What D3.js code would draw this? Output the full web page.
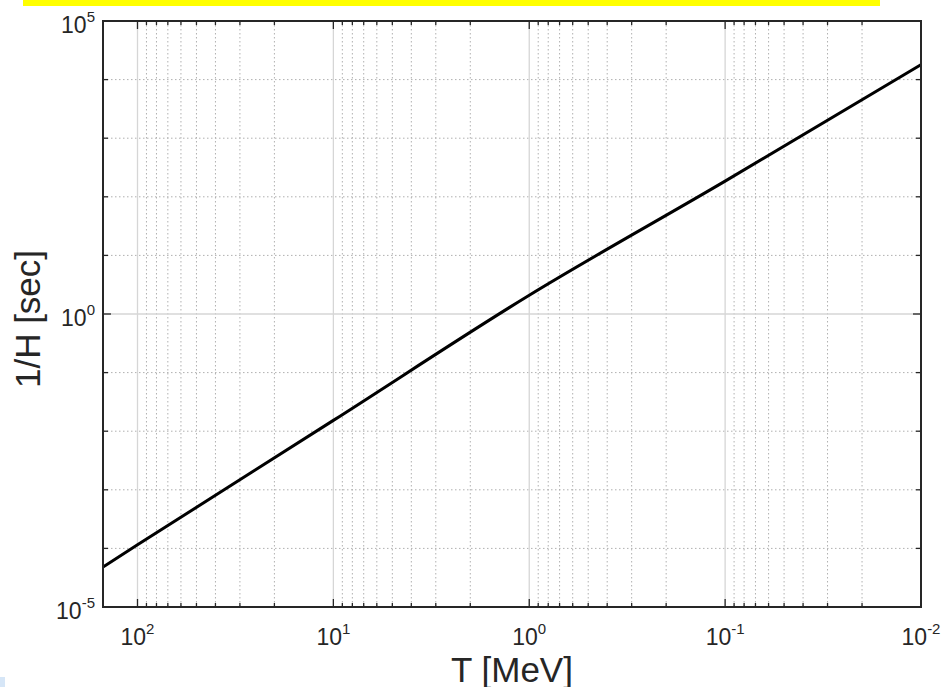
<!DOCTYPE html>
<html><head><meta charset="utf-8">
<script src="https://cdn.jsdelivr.net/npm/d3@7"></script>
<style>html,body{margin:0;padding:0;background:#fff;}svg{display:block;}</style>
</head><body>
<script>
// Data
const temperatureMeV = [150, 100, 10, 1, 0.1, 0.01];
const inverseHubbleSec = [4.82e-5, 1.15e-4, 0.0153, 2.09, 185, 1.80e4];
const xTickValues = [100, 10, 1, 0.1, 0.01];
const yTickValues = [1e-5, 1, 1e5];
const xTitle = "T [MeV]";
const yTitle = "1/H [sec]";

const W = 947, H = 687;
const m = {left: 103, right: 921, top: 21, bottom: 607};
const svg = d3.select("body").append("svg").attr("width", W).attr("height", H);
const font = "'Liberation Sans', Arial, Helvetica, sans-serif";

// yellow banner and corner bit
svg.append("rect").attr("x", 23).attr("y", 0).attr("width", 857).attr("height", 6).attr("fill", "#ffff00");
svg.append("rect").attr("x", 0).attr("y", 677).attr("width", 5).attr("height", 10).attr("fill", "#d6e6f7");

const x = d3.scaleLog().domain([150, 0.01]).range([m.left, m.right]);
const y = d3.scaleLog().domain([1e-5, 1e5]).range([m.bottom, m.top]);

// minor x positions
const xMinor = [];
for (let e = -2; e <= 2; e++) for (let k = 2; k <= 9; k++) {
  const v = k * Math.pow(10, e);
  if (v < 150 && v > 0.01) xMinor.push(v);
}
const xMajor = xTickValues.filter(v => v < 150 && v > 0.01);
const yMinor = d3.range(-4, 5).filter(e => e !== 0).map(e => Math.pow(10, e));
const yMajorInner = yTickValues.filter(v => v > 1e-5 && v < 1e5);

const g = svg.append("g");
// grids
g.selectAll(".xminor").data(xMinor).join("line")
  .attr("x1", d => x(d)).attr("x2", d => x(d)).attr("y1", m.top).attr("y2", m.bottom)
  .attr("stroke", "#b0b0b0").attr("stroke-width", 1).attr("stroke-dasharray", "1.5,2.5");
g.selectAll(".yminor").data(yMinor).join("line")
  .attr("y1", d => y(d)).attr("y2", d => y(d)).attr("x1", m.left).attr("x2", m.right)
  .attr("stroke", "#b0b0b0").attr("stroke-width", 1).attr("stroke-dasharray", "1.5,2.5");
g.selectAll(".xmajor").data(xMajor).join("line")
  .attr("x1", d => x(d)).attr("x2", d => x(d)).attr("y1", m.top).attr("y2", m.bottom)
  .attr("stroke", "#d6d6d6").attr("stroke-width", 1.3);
g.selectAll(".ymajor").data(yMajorInner).join("line")
  .attr("y1", d => y(d)).attr("y2", d => y(d)).attr("x1", m.left).attr("x2", m.right)
  .attr("stroke", "#d6d6d6").attr("stroke-width", 1.3);

// axes with inward ticks
const tickStroke = "#262626";
function drawTicks(vals, len, horizontal) {
  vals.forEach(v => {
    if (horizontal) {
      const px = x(v);
      g.append("line").attr("x1", px).attr("x2", px).attr("y1", m.bottom).attr("y2", m.bottom - len).attr("stroke", tickStroke).attr("stroke-width", 1.3);
      g.append("line").attr("x1", px).attr("x2", px).attr("y1", m.top).attr("y2", m.top + len).attr("stroke", tickStroke).attr("stroke-width", 1.3);
    } else {
      const py = y(v);
      g.append("line").attr("y1", py).attr("y2", py).attr("x1", m.left).attr("x2", m.left + len).attr("stroke", tickStroke).attr("stroke-width", 1.3);
      g.append("line").attr("y1", py).attr("y2", py).attr("x1", m.right).attr("x2", m.right - len).attr("stroke", tickStroke).attr("stroke-width", 1.3);
    }
  });
}
drawTicks(xMinor, 4, true);
drawTicks(xMajor, 8, true);
drawTicks(yMinor, 5, false);
drawTicks(yMajorInner, 8, false);

// line
const line = d3.line().x(d => x(d[0])).y(d => y(d[1])).curve(d3.curveMonotoneX);
g.append("path").datum(temperatureMeV.map((t, i) => [t, inverseHubbleSec[i]]))
  .attr("d", line).attr("fill", "none").attr("stroke", "#000").attr("stroke-width", 3);

// frame
g.append("rect").attr("x", m.left).attr("y", m.top).attr("width", m.right - m.left).attr("height", m.bottom - m.top)
  .attr("fill", "none").attr("stroke", tickStroke).attr("stroke-width", 2);

// tick labels
const exp = v => Math.round(Math.log10(v));
function label(sel, v) {
  sel.append("tspan").text("10");
  sel.append("tspan").attr("dy", -11).attr("font-size", 15).text(exp(v));
}
xTickValues.forEach(v => {
  const t = svg.append("text").attr("x", x(v)).attr("y", 645).attr("text-anchor", "middle")
    .attr("font-family", font).attr("font-size", 23).attr("fill", "#262626");
  label(t, v);
});
yTickValues.forEach(v => {
  const t = svg.append("text").attr("x", 95).attr("y", y(v) + 12).attr("text-anchor", "end")
    .attr("font-family", font).attr("font-size", 23).attr("fill", "#262626");
  label(t, v);
});

// titles
svg.append("text").attr("x", (m.left + m.right) / 2).attr("y", 682).attr("text-anchor", "middle")
  .attr("font-family", font).attr("font-size", 35).attr("fill", "#262626").text(xTitle);
svg.append("text").attr("transform", `translate(40,${(m.top + m.bottom) / 2 + 5}) rotate(-90)`)
  .attr("text-anchor", "middle").attr("font-family", font).attr("font-size", 35).attr("fill", "#262626").text(yTitle);
</script>
</body></html>
